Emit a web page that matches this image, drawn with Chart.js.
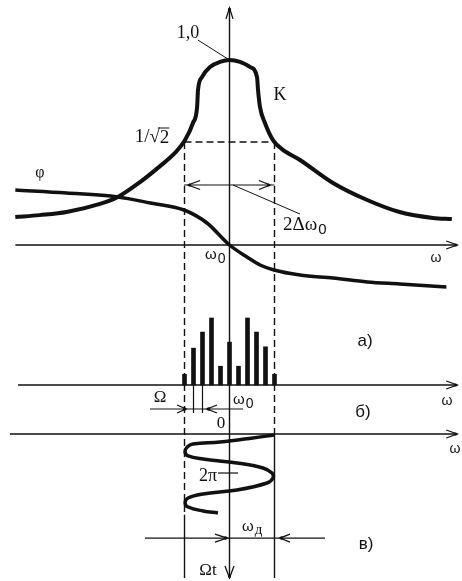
<!DOCTYPE html>
<html>
<head>
<meta charset="utf-8">
<script src="https://cdn.jsdelivr.net/npm/chart.js@4"></script>
<style>
  html, body { margin: 0; padding: 0; background: #fff; }
  canvas { display: block; }
</style>
</head>
<body>
<canvas id="chart" width="462" height="581"></canvas>
<script>
// Частота: відхилення від ω0 в одиницях Ω
// а) АЧХ контуру K(ω)
const kOmega = [-23.8, -21.1, -18.1, -14.4, -12.4, -9.94, -7.72, -6.06, -4.94, -4.06, -3.6, -3.5, -3.06, -2.17, -1.06, 0,
                1.17, 2.28, 3.06, 3.17, 3.39, 3.94, 4.83, 5.9, 7.83, 11.5, 15.3, 18.9, 22.6, 24.7];
const kValues = [0.439, 0.446, 0.457, 0.486, 0.511, 0.564, 0.621, 0.668, 0.714, 0.775, 0.832, 0.893, 0.939, 0.975, 0.993, 1.0,
                 0.993, 0.975, 0.939, 0.893, 0.832, 0.775, 0.714, 0.68, 0.643, 0.561, 0.5, 0.457, 0.436, 0.432];

// ФЧХ φ(ω)
const phiOmega = [-23.8, -18.1, -12.4, -8.8, -5.05, -2.5, 0, 1.94, 3.4, 4.94, 7.83, 11.5, 15.3, 18.9, 24.1];
const phiValues = [1.375, 1.3, 1.2, 1.05, 0.875, 0.55, 0, -0.3, -0.5, -0.625, -0.75, -0.825, -0.925, -0.975, -1.05];

// б) спектр ЧМ-сигналу: номер складової та амплітуда
const lineIndex = [-5, -4, -3, -2, -1, 0, 1, 2, 3, 4, 5];
const lineAmp = [0.16, 0.55, 0.79, 1.0, 0.28, 0.64, 0.28, 1.0, 0.79, 0.57, 0.16];

// в) миттєва частота в часі (Ωt, рад)
const waveOmega = [4.94, 2.6, -1.06, -4.06, -4.7, -4.94, -4.6, -2.94, 0.83, 3.72, 4.72, 4.83, 4.17, 0.83, -2.94, -4.6, -4.94, -4.6, -2.94, -1.28];
const wavePhase = [0.16, 0.64, 1.29, 1.61, 2.09, 2.9, 3.54, 4.03, 4.67, 5.48, 6.28, 7.09, 7.89, 9.02, 9.66, 10.3, 11.1, 11.76, 12.4, 12.72];

const INK = '#111';
const SERIF = '"Liberation Serif", "DejaVu Serif", serif';
const SANS = '"Liberation Sans", Arial, sans-serif';

function pts(xs, ys) {
  return xs.map((x, i) => ({ x: x, y: ys[i] }));
}

function seg(ctx, x1, y1, x2, y2, w, dash) {
  ctx.save();
  ctx.lineWidth = w;
  ctx.strokeStyle = INK;
  ctx.setLineDash(dash || []);
  ctx.beginPath();
  ctx.moveTo(x1, y1);
  ctx.lineTo(x2, y2);
  ctx.stroke();
  ctx.restore();
}

// відкрита стрілка ">" з крапкою на вістрі; (dx, dy) — напрям
function head(ctx, tx, ty, dx, dy, len, half, dot) {
  const nx = -dy, ny = dx;
  const bx = tx - dx * len, by = ty - dy * len;
  ctx.save();
  ctx.strokeStyle = INK;
  ctx.lineWidth = 1.3;
  ctx.beginPath();
  ctx.moveTo(bx + nx * half, by + ny * half);
  ctx.lineTo(tx, ty);
  ctx.lineTo(bx - nx * half, by - ny * half);
  ctx.stroke();
  if (dot) {
    ctx.fillStyle = INK;
    ctx.beginPath();
    ctx.arc(tx - dx * 1.5, ty - dy * 1.5, dot, 0, Math.PI * 2);
    ctx.fill();
  }
  ctx.restore();
}

function text(ctx, s, x, y, font, align) {
  ctx.save();
  ctx.font = font;
  ctx.fillStyle = INK;
  ctx.textAlign = align || 'center';
  ctx.textBaseline = 'middle';
  ctx.fillText(s, x, y);
  ctx.restore();
}

// текст з нижнім індексом, вирівняний по лівому краю
function subText(ctx, s, sub, x, y, font, subFont, drop) {
  ctx.save();
  ctx.fillStyle = INK;
  ctx.textBaseline = 'middle';
  ctx.textAlign = 'left';
  ctx.font = font;
  ctx.fillText(s, x, y);
  const w = ctx.measureText(s).width;
  ctx.font = subFont;
  ctx.fillText(sub, x + w + 1, y + drop);
  ctx.restore();
}

const decor = {
  id: 'decor',
  beforeDatasetsDraw(chart) {
    const { ctx, scales } = chart;
    const X = v => scales.x.getPixelForValue(v);
    const Y = (id, v) => scales[id].getPixelForValue(v);

    // вертикальна вісь через ω0
    seg(ctx, X(0), Y('yK', 1.186), X(0), Y('yT', 23.2), 1.4);
    head(ctx, X(0), Y('yK', 1.186), 0, -1, 11, 3.5, 1.6);
    head(ctx, X(0), Y('yT', 23.2), 0, 1, 12, 4.5, 1.4);

    // горизонтальні осі ω
    seg(ctx, X(-23.8), Y('yPhi', 0), X(25.3), Y('yPhi', 0), 1.4);
    head(ctx, X(25.3), Y('yPhi', 0), 1, 0, 11, 4, 1.6);
    seg(ctx, X(-23.5), Y('ySpec', 0), X(25.3), Y('ySpec', 0), 1.4);
    head(ctx, X(25.3), Y('ySpec', 0), 1, 0, 11, 4, 1.6);
    seg(ctx, X(-24.4), Y('yT', 0), X(25.3), Y('yT', 0), 1.4);
    head(ctx, X(25.3), Y('yT', 0), 1, 0, 11, 4, 1.6);

    // межі смуги пропускання
    const dash = [7, 4];
    seg(ctx, X(-5), Y('yK', 0.7071), X(5), Y('yK', 0.7071), 1.4, dash);
    seg(ctx, X(-5), Y('yK', 0.7071), X(-5), Y('yT', 13), 1.4, dash);
    seg(ctx, X(-5), Y('yT', 13), X(-5), Y('yT', 23.2), 1.4);
    seg(ctx, X(5), Y('yK', 0.7071), X(5), Y('yT', 0), 1.4, dash);
    seg(ctx, X(5), Y('yT', 0), X(5), Y('yT', 23.2), 1.4);
  },
  afterDatasetsDraw(chart) {
    const { ctx, scales } = chart;
    const X = v => scales.x.getPixelForValue(v);
    const Y = (id, v) => scales[id].getPixelForValue(v);

    // а)
    text(ctx, '1,0', X(-4.61), Y('yK', 1.096), '18px ' + SERIF);
    seg(ctx, X(-3.5), Y('yK', 1.071), X(0), Y('yK', 1.0), 1);

    ctx.save();
    const f = '19px ' + SERIF;
    ctx.font = f;
    const a = '1/\u221A', b = '2';
    const wa = ctx.measureText(a).width, wb = ctx.measureText(b).width;
    const lx = X(-8.61) - (wa + wb) / 2, ly = Y('yK', 0.725);
    text(ctx, a, lx, ly, f, 'left');
    text(ctx, b, lx + wa, ly + 1, f, 'left');
    seg(ctx, lx + wa - 2, ly - 9, lx + wa + wb, ly - 9, 1);
    ctx.restore();

    text(ctx, 'K', X(5.61), Y('yK', 0.875), '18px ' + SERIF);
    text(ctx, '\u03C6', X(-21.06), Y('yPhi', 1.8), '16px ' + SERIF);

    // ширина смуги 2Δω0
    seg(ctx, X(-5.06), Y('yPhi', 1.5), X(5), Y('yPhi', 1.5), 1.2);
    head(ctx, X(-4.6), Y('yPhi', 1.5), -1, 0, 12, 4.5, 1.6);
    head(ctx, X(4.5), Y('yPhi', 1.5), 1, 0, 11, 4.5, 1.6);
    seg(ctx, X(0.39), Y('yPhi', 1.5), X(7.83), Y('yPhi', 0.775), 1);
    subText(ctx, '2\u0394\u03C9', '0', X(5.94), Y('yPhi', 0.5), '19px ' + SERIF, '15px ' + SANS, 5);

    subText(ctx, '\u03C9', '0', X(-2.72), Y('yPhi', -0.25), '15px ' + SANS, '14px ' + SANS, 4);
    text(ctx, '\u03C9', X(22.94), Y('yPhi', -0.325), '14px ' + SANS);

    // б)
    text(ctx, 'a)', X(15.06), Y('ySpec', 0.657), '17px ' + SANS);
    text(ctx, '\u03C9', X(24.17), Y('ySpec', -0.239), '14px ' + SANS);
    text(ctx, '\u03A9', X(-7.72), Y('ySpec', -0.194), '17px ' + SERIF);
    subText(ctx, '\u03C9', '0', X(0.39), Y('ySpec', -0.22), '15px ' + SANS, '14px ' + SANS, 4);

    seg(ctx, X(-8.83), Y('ySpec', -0.358), X(1.5), Y('ySpec', -0.358), 1.2);
    seg(ctx, X(-4), Y('ySpec', 0), X(-4), Y('ySpec', -0.418), 1.2);
    seg(ctx, X(-3), Y('ySpec', 0), X(-3), Y('ySpec', -0.418), 1.2);
    head(ctx, X(-4.83), Y('ySpec', -0.358), 1, 0, 9, 4, 1.8);
    head(ctx, X(-2.5), Y('ySpec', -0.358), -1, 0, 10, 4, 1.8);
    text(ctx, '\u0431)', X(14.83), Y('ySpec', -0.403), '17px ' + SANS);

    // в)
    text(ctx, '0', X(-0.94), Y('yT', -1.61), '17px ' + SERIF);
    text(ctx, '\u03C9', X(25.06), Y('yT', 2.42), '14px ' + SANS);
    text(ctx, '2\u03C0', X(-1.39), Y('yT', 6.77), '18px ' + SERIF, 'right');
    seg(ctx, X(-1.28), Y('yT', 2 * Math.PI), X(0.95), Y('yT', 2 * Math.PI), 1.2);

    seg(ctx, X(-9.39), Y('yT', 16.76), X(10.61), Y('yT', 16.76), 1.2);
    head(ctx, X(-0.28), Y('yT', 16.76), 1, 0, 12, 4, 1.8);
    head(ctx, X(5.61), Y('yT', 16.76), -1, 0, 10, 4, 1.8);
    subText(ctx, '\u03C9', '\u0434', X(1.39), Y('yT', 15.0), '15px ' + SANS, '15px ' + SERIF, 3);
    text(ctx, '\u0432)', X(15.17), Y('yT', 17.72), '17px ' + SANS);
    text(ctx, '\u03A9t', X(-2.39), Y('yT', 22.07), '17px ' + SERIF);
  }
};

const hidden = { display: false };

new Chart(document.getElementById('chart'), {
  type: 'scatter',
  data: {
    datasets: [
      {
        type: 'line', data: pts(kOmega, kValues), yAxisID: 'yK',
        borderColor: INK, borderWidth: 4, pointRadius: 0, cubicInterpolationMode: 'monotone'
      },
      {
        type: 'line', data: pts(phiOmega, phiValues), yAxisID: 'yPhi',
        borderColor: INK, borderWidth: 3.5, pointRadius: 0, cubicInterpolationMode: 'monotone'
      },
      {
        type: 'bar', data: pts(lineIndex, lineAmp), yAxisID: 'ySpec',
        backgroundColor: INK, barThickness: 4, borderWidth: 0
      },
      {
        type: 'line', data: pts(waveOmega, wavePhase), yAxisID: 'yT',
        borderColor: INK, borderWidth: 3.5, pointRadius: 0, tension: 0.4
      }
    ]
  },
  options: {
    responsive: false,
    animation: false,
    layout: { padding: 0 },
    plugins: { legend: hidden, tooltip: { enabled: false } },
    scales: {
      x: { type: 'linear', display: false, offset: false, min: -25.5, max: 25.833 },
      yK: { type: 'linear', display: false, min: -0.8607, max: 1.2143 },
      yPhi: { type: 'linear', display: false, min: -8.4, max: 6.125 },
      ySpec: { type: 'linear', display: false, min: -2.9254, max: 5.7463 },
      yT: { type: 'linear', display: false, reverse: true, min: -69.92, max: 23.68 }
    }
  },
  plugins: [decor]
});
</script>
</body>
</html>
